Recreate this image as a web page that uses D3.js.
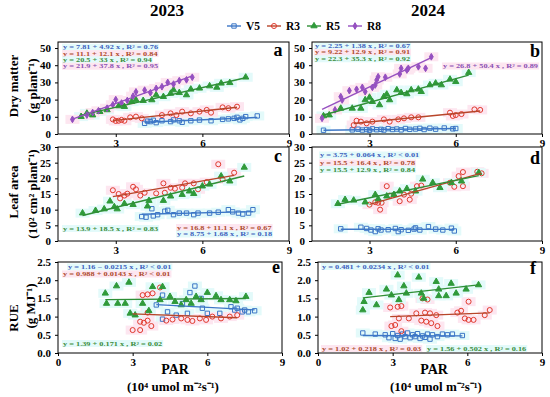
<!DOCTYPE html>
<html><head><meta charset="utf-8">
<script src="https://cdn.jsdelivr.net/npm/d3@7"></script>
<style>body{margin:0;background:#fff}svg{display:block}</style>
</head><body>
<svg id="chart" width="550" height="397"></svg>
<script>
// ---------- DATA (x: PAR, 10^4 umol m-2 s-1) ----------
const seriesNames = ["V5", "R3", "R5", "R8"];
const yearLabels = ["2023", "2024"];
const dmTicks = [0, 10, 20, 30, 40, 50];
const laTicks = [0, 5, 10, 15, 20, 25, 30];
const rueTicks = [0, 0.5, 1.0, 1.5, 2.0, 2.5];
const xTicksTop = [3, 6, 9];
const xTicksBottom = [0, 3, 6, 9];

// Dry matter 2023 (panel a)
const dmV5_2023 = [[4.0,6.2],[4.1,7.5],[4.2,7.2],[4.3,8.0],[4.4,6.6],[4.6,7.7],[4.9,7.2],[5.0,8.2],[5.2,7.7],[5.3,6.8],[5.6,7.7],[5.9,8.1],[6.3,7.7],[6.7,8.5],[6.9,8.8],[7.1,9.1],[7.2,9.7],[7.3,8.2],[7.4,9.1],[7.5,10.1],[7.9,10.5]];
const dmR3_2023 = [[2.9,8.5],[3.0,7.6],[3.1,7.7],[3.2,8.2],[3.3,7.7],[3.5,9.7],[3.7,10.1],[3.9,9.1],[4.6,11.0],[4.9,12.0],[5.1,11.0],[5.3,13.0],[5.6,12.0],[5.9,13.0],[6.15,14.0],[6.3,12.4],[6.7,15.5],[6.9,15.0],[7.2,15.9]];
const dmR5_2023 = [[1.8,10.1],[2.0,12.0],[2.2,11.0],[2.45,13.0],[2.7,14.0],[3.1,16.3],[3.3,15.9],[3.55,18.8],[3.7,19.8],[3.95,19.4],[4.25,19.8],[4.4,22.7],[4.65,21.7],[4.9,23.6],[5.0,25.6],[5.2,24.0],[5.45,22.7],[5.6,26.0],[5.9,26.6],[6.25,27.9],[6.5,27.1],[6.65,29.5],[6.95,29.8],[7.5,33.0]];
const dmR8_2023 = [[1.5,8.5],[2.0,11.0],[2.2,12.5],[2.4,13.5],[2.7,15.0],[2.9,17.0],[3.0,20.0],[3.2,18.0],[3.4,19.5],[3.6,22.0],[3.7,24.5],[4.0,25.5],[4.2,24.0],[4.4,26.5],[4.6,27.5],[4.8,30.0],[5.0,29.0],[5.2,31.0],[5.45,31.5],[5.65,33.0]];

// Dry matter 2024 (panel b)
const dmV5_2024 = [[1.4,2.2],[2.4,2.4],[2.6,2.8],[2.75,2.3],[2.9,2.6],[3.0,2.2],[3.1,3.0],[3.25,2.5],[3.4,2.7],[3.5,2.3],[3.65,3.1],[3.8,2.6],[3.95,2.9],[4.1,2.4],[4.25,3.2],[4.4,2.7],[4.6,2.9],[4.75,3.3],[4.9,2.6],[5.1,3.4],[5.3,2.8],[5.6,3.5],[5.9,3.0],[6.0,3.2]];
const dmR3_2024 = [[2.45,5.2],[2.55,7.7],[2.7,7.2],[2.9,6.2],[3.1,7.2],[3.5,8.5],[3.7,7.2],[4.0,8.5],[4.2,9.1],[4.45,9.7],[4.7,9.7],[5.8,12.4],[5.9,10.5],[6.0,11.0],[6.2,11.6],[6.65,14.3],[6.85,14.0]];
const dmR5_2024 = [[1.4,10.5],[1.6,11.0],[2.0,14.9],[2.4,14.9],[2.7,14.9],[2.85,19.8],[3.0,21.3],[3.1,18.8],[3.35,16.9],[3.5,21.7],[3.6,23.1],[3.7,19.8],[3.95,25.6],[4.1,24.0],[4.3,23.3],[4.45,25.6],[4.7,26.0],[4.8,24.6],[5.1,28.5],[5.3,29.5],[5.5,28.5],[5.8,31.8],[6.0,30.4],[6.45,35.7]];
const dmR8_2024 = [[1.35,9.1],[1.8,14.0],[2.0,21.7],[2.05,19.8],[2.3,25.2],[2.55,26.0],[2.75,27.1],[2.85,24.6],[3.1,27.1],[3.2,28.5],[3.25,31.4],[3.3,33.3],[3.55,33.0],[4.05,34.9],[4.1,38.2],[4.3,37.2],[4.35,38.2],[4.7,39.1],[4.95,38.2],[5.15,44.9]];

// Leaf area 2023 (panel c)
const laV5_2023 = [[3.9,7.8],[4.05,7.6],[4.25,10.3],[4.3,8.0],[4.45,8.4],[4.7,9.5],[4.8,9.8],[5.0,8.4],[5.2,8.9],[5.45,8.9],[5.7,8.4],[5.85,8.9],[6.25,8.9],[6.55,9.2],[6.9,10.0],[7.05,9.3],[7.25,8.9],[7.4,8.6],[7.6,8.9],[7.75,10.0]];
const laR3_2023 = [[2.9,16.2],[3.1,15.0],[3.15,13.6],[3.3,14.5],[3.4,15.1],[3.6,17.3],[3.7,16.5],[3.85,14.5],[4.0,15.4],[4.4,15.2],[4.65,18.4],[4.7,15.4],[4.9,17.0],[5.05,16.7],[5.3,17.0],[5.4,18.4],[5.7,18.4],[5.85,16.5],[6.15,18.8],[6.55,24.5],[6.7,19.7],[7.1,21.8]];
const laR5_2023 = [[1.85,8.9],[2.3,9.7],[2.6,10.2],[2.8,12.7],[2.95,10.9],[3.05,10.2],[3.3,11.9],[3.6,11.6],[4.1,11.1],[4.15,12.9],[4.65,12.9],[4.9,14.3],[5.3,14.8],[5.55,15.9],[5.7,15.1],[6.0,17.5],[6.25,18.1],[6.65,20.7],[6.95,19.1],[7.45,23.5]];

// Leaf area 2024 (panel d)
const laV5_2024 = [[2.0,3.9],[2.7,4.4],[2.9,4.0],[3.05,3.5],[3.2,3.0],[3.3,3.9],[3.4,3.5],[3.65,3.6],[3.9,4.0],[4.0,3.0],[4.1,3.6],[4.35,3.4],[4.55,3.8],[4.6,4.2],[4.75,3.5],[5.05,4.6],[5.3,3.8],[5.55,3.5],[5.85,4.1],[5.95,3.2]];
const laR3_2024 = [[3.0,11.6],[3.2,12.4],[3.3,12.2],[3.37,10.0],[3.42,12.2],[3.6,17.5],[3.7,14.5],[4.05,12.7],[4.2,14.8],[4.4,13.2],[4.45,15.1],[4.65,17.5],[4.8,17.7],[5.8,18.6],[5.95,17.3],[6.1,20.7],[6.25,22.0],[6.25,17.5],[6.75,22.1],[6.9,21.6]];
const laR5_2024 = [[1.9,11.9],[2.15,13.2],[2.45,13.0],[2.85,12.4],[3.2,14.8],[3.3,13.4],[3.6,14.3],[3.85,14.8],[4.05,15.9],[4.3,16.7],[4.6,15.9],[4.85,19.7],[5.2,18.6],[5.45,17.0],[5.85,18.6],[6.2,19.1],[6.8,21.8]];

// RUE 2023 (panel e)
const rueV5_2023 = [[3.95,1.32],[4.2,1.59],[4.4,1.13],[4.2,0.93],[4.75,1.04],[5.0,1.36],[5.2,1.09],[5.3,1.66],[5.5,1.84],[5.75,1.50],[5.8,1.23],[6.0,1.09],[6.5,1.09],[6.95,1.27],[7.1,1.18],[7.2,1.23],[7.4,1.13],[7.5,1.18],[7.65,1.13],[7.9,1.16]];
const rueR3_2023 = [[3.0,0.63],[3.3,0.63],[3.3,0.86],[3.45,0.83],[3.6,0.89],[3.6,1.11],[3.4,1.59],[3.6,1.61],[3.8,1.64],[3.75,0.74],[4.1,1.80],[4.35,0.89],[4.6,0.92],[4.95,0.95],[5.2,0.91],[5.4,0.88],[5.7,0.95],[5.95,0.91],[6.2,1.0],[6.55,0.95],[6.9,1.0],[7.2,1.04]];
const rueR5_2023 = [[1.9,1.64],[2.35,1.84],[2.85,1.94],[1.95,1.36],[2.4,1.36],[2.7,1.36],[2.9,1.09],[3.1,1.04],[3.4,1.36],[3.65,1.16],[3.8,1.82],[4.1,1.46],[4.2,1.82],[4.5,1.55],[4.7,1.41],[4.95,1.32],[5.15,1.46],[5.35,1.36],[5.55,1.55],[5.75,1.46],[6.0,1.66],[6.35,1.57],[6.55,1.46],[6.9,1.46],[7.15,1.43],[7.55,1.55]];

// RUE 2024 (panel f)
const rueV5_2024 = [[1.8,0.55],[2.3,0.52],[2.7,0.5],[2.85,0.42],[3.0,0.53],[3.1,0.4],[3.2,0.48],[3.3,0.38],[3.4,0.52],[3.5,0.45],[3.6,0.55],[3.7,0.42],[3.8,0.5],[3.9,0.45],[4.0,0.53],[4.1,0.4],[4.2,0.47],[4.3,0.43],[4.4,0.52],[4.5,0.38],[4.6,0.5],[4.8,0.45],[5.0,0.52],[5.2,0.5],[5.4,0.52],[5.8,0.48]];
const rueR3_2024 = [[2.9,1.25],[3.2,1.27],[3.35,1.29],[2.95,0.74],[3.1,0.77],[3.25,0.95],[3.35,0.6],[3.65,0.95],[3.95,1.09],[4.2,1.50],[4.3,1.11],[4.4,1.47],[4.5,1.09],[4.15,0.89],[4.35,0.86],[4.55,0.82],[4.75,1.04],[4.8,0.74],[5.6,1.11],[5.75,1.16],[5.9,0.95],[6.05,0.91],[6.25,0.91],[6.05,1.41],[6.7,1.04],[6.9,1.18]];
const rueR5_2024 = [[1.8,1.18],[1.85,1.41],[2.05,1.66],[2.35,1.32],[2.75,1.75],[2.95,1.59],[3.2,2.14],[3.25,1.46],[3.45,1.84],[3.55,1.64],[4.05,2.08],[4.15,1.64],[4.25,1.50],[4.75,1.96],[4.85,1.75],[4.85,1.57],[5.15,1.57],[5.35,1.91],[5.55,1.64],[5.95,1.75],[6.45,1.87]];

// ---------- STYLE ----------
const FONT = "'Liberation Serif','Times New Roman',serif";
const col = {V5:"#3c76c6", R3:"#e0392e", R5:"#2f9a3a", R8:"#9550c0"};
const lineCol = {V5:"#3c76c6", R3:"#b8452a", R5:"#2f8f36", R8:"#9550c0"};
const eqCol = {V5:"#3d5fbd", R3:"#ad4a2c", R5:"#3b8c3b", R8:"#8a4fb3"};
const haloCol = {V5:"#e3fafa", R3:"#fde6f0", R5:"#e3fafa", R8:"#fde6f0"};

const svg = d3.select("#chart");

function symbolPath(name){
  if(name==="V5") return d3.symbol(d3.symbolSquare, 19)();
  if(name==="R3") return d3.symbol(d3.symbolCircle, 20)();
  if(name==="R5") return d3.symbol(d3.symbolTriangle, 17)();
  return d3.symbol(d3.symbolDiamond, 13)();
}
function drawMarker(g, name, x, y){
  const open = (name==="V5"||name==="R3");
  g.append("path").attr("d", symbolPath(name))
    .attr("transform", `translate(${x},${y})`)
    .attr("fill", open ? "none" : col[name])
    .attr("stroke", col[name]).attr("stroke-width", 1);
}
function fit(pts){
  const mx = d3.mean(pts,d=>d[0]), my = d3.mean(pts,d=>d[1]);
  let sxy=0, sxx=0;
  pts.forEach(([x,y])=>{sxy+=(x-mx)*(y-my); sxx+=(x-mx)*(x-mx);});
  const b = sxy/sxx, a = my - b*mx;
  return x => a + b*x;
}

const panels = [
  {lab:"a", xd:[1,9], xr:[58,289], yd:[0,53.5], yr:[134,42], yt:dmTicks, fmt:d3.format("d"), xt:xTicksTop,
   series:{V5:dmV5_2023, R3:dmR3_2023, R5:dmR5_2023, R8:dmR8_2023}, labPos:[278,56],
   eqs:[["y = 7.81 + 4.92 x , R² = 0.76","V5",63,49.3,"start"],["y = 11.1 + 12.1 x , R² = 0.84","R3",63,55.6,"start"],
        ["y = 20.5 + 33 x , R² = 0.94","R5",63,61.9,"start"],["y = 21.9 + 37.8 x , R² = 0.95","R8",63,68.2,"start"]]},
  {lab:"b", xd:[1,9], xr:[312,542], yd:[0,53.5], yr:[134,42], yt:dmTicks, fmt:d3.format("d"), xt:xTicksTop,
   series:{V5:dmV5_2024, R3:dmR3_2024, R5:dmR5_2024, R8:dmR8_2024}, labPos:[535,57],
   eqs:[["y = 2.25 + 1.38 x , R² = 0.67","V5",315,48,"start"],["y = 9.22 + 12.9 x , R² = 0.91","R3",315,54.4,"start"],
        ["y = 22.3 + 35.3 x , R² = 0.92","R5",315,60.8,"start"],["y = 26.8 + 50.4 x , R² = 0.89","R8",538,68,"end"]]},
  {lab:"c", xd:[1,9], xr:[58,289], yd:[0,30], yr:[241,147], yt:laTicks, fmt:d3.format("d"), xt:xTicksTop,
   series:{V5:laV5_2023, R3:laR3_2023, R5:laR5_2023}, labPos:[278,162],
   eqs:[["y = 13.9 + 18.5 x , R² = 0.83","R5",63,230.5,"start"],["y = 16.8 + 11.1 x , R² = 0.67","R3",177,229.5,"start"],
        ["y = 8.75 + 1.68 x , R² = 0.18","V5",177,236,"start"]]},
  {lab:"d", xd:[1,9], xr:[312,542], yd:[0,30], yr:[241,147], yt:laTicks, fmt:d3.format("d"), xt:xTicksTop,
   series:{V5:laV5_2024, R3:laR3_2024, R5:laR5_2024}, labPos:[535,164],
   eqs:[["y = 3.75 + 0.064 x , R² < 0.01","V5",320,157,"start"],["y = 15.5 + 16.4 x , R² = 0.78","R3",320,165,"start"],
        ["y = 15.5 + 12.9 x , R² = 0.84","R5",320,171.5,"start"]]},
  {lab:"e", xd:[0,9], xr:[58,282], yd:[0,2.5], yr:[353,262], yt:rueTicks, fmt:d3.format(".1f"), xt:xTicksBottom,
   series:{V5:rueV5_2023, R3:rueR3_2023, R5:rueR5_2023}, labPos:[276,273],
   eqs:[["y = 1.16 − 0.0215 x , R² < 0.01","V5",68,269,"start"],["y = 0.988 + 0.0143 x , R² < 0.01","R3",63,276,"start"],
        ["y = 1.39 + 0.171 x , R² = 0.02","R5",63,345.5,"start"]]},
  {lab:"f", xd:[0,9], xr:[318,542], yd:[0,2.5], yr:[353,262], yt:rueTicks, fmt:d3.format(".1f"), xt:xTicksBottom,
   series:{V5:rueV5_2024, R3:rueR3_2024, R5:rueR5_2024}, labPos:[533,274],
   eqs:[["y = 0.481 + 0.0234 x , R² < 0.01","V5",322,268.5,"start"],["y = 1.02 + 0.218 x , R² = 0.03","R3",322,350.5,"start"],
        ["y = 1.56 + 0.502 x , R² = 0.16","R5",427,350.5,"start"]]}
];

panels.forEach(p=>{
  const x = d3.scaleLinear().domain(p.xd).range(p.xr);
  const y = d3.scaleLinear().domain(p.yd).range(p.yr);
  const g = svg.append("g");
  // pale highlight halos behind the points (as in the source image)
  const halo = g.append("g");
  seriesNames.forEach(s=>{
    if(!p.series[s]) return;
    p.series[s].forEach(d=>{
      halo.append("rect").attr("x",x(d[0])-7).attr("y",y(d[1])-4.5)
        .attr("width",14).attr("height",9).attr("fill",haloCol[s]);
    });
  });
  const ya = g.append("g").attr("transform",`translate(${p.xr[0]},0)`)
    .call(d3.axisLeft(y).tickValues(p.yt).tickFormat(p.fmt).tickSize(3).tickSizeOuter(0));
  const xa = g.append("g").attr("transform",`translate(0,${p.yr[0]})`)
    .call(d3.axisBottom(x).tickValues(p.xt).tickFormat(d3.format("d")).tickSize(3).tickSizeOuter(0));
  [ya, xa].forEach(a=>{
    a.select(".domain").remove();
    a.selectAll("line").attr("stroke","#000");
    a.selectAll("text").attr("font-family",FONT).attr("font-weight","bold").attr("font-size",11).attr("fill","#000");
  });
  ya.selectAll("text").attr("dx",-1);
  xa.selectAll("text").attr("dy","0.6em");
  // equations (with pale backgrounds)
  p.eqs.forEach(([t,s,tx,ty,anc])=>{
    const bg = g.append("rect");
    const te = g.append("text").attr("x",tx).attr("y",ty).attr("text-anchor",anc)
      .attr("font-family",FONT).attr("font-weight","bold").attr("font-size",6)
      .attr("fill",eqCol[s]).text(t);
    const w = te.node().getComputedTextLength()*1.38;
    te.attr("textLength", w).attr("lengthAdjust","spacingAndGlyphs");
    const x0 = anc==="end" ? tx-w : tx;
    bg.attr("x",x0-1).attr("y",ty-5.5).attr("width",w+2).attr("height",7).attr("fill",haloCol[s]);
  });
  seriesNames.forEach(s=>{
    if(!p.series[s]) return;
    p.series[s].forEach(d=>drawMarker(g, s, x(d[0]), y(d[1])));
  });
  seriesNames.forEach(s=>{
    const pts = p.series[s]; if(!pts) return;
    const f = fit(pts), ext = d3.extent(pts, d=>d[0]);
    g.append("line").attr("x1",x(ext[0])).attr("x2",x(ext[1]))
      .attr("y1",y(f(ext[0]))).attr("y2",y(f(ext[1])))
      .attr("stroke",lineCol[s]).attr("stroke-width",1.4);
  });
  g.append("rect").attr("x",p.xr[0]).attr("y",p.yr[1])
    .attr("width",p.xr[1]-p.xr[0]).attr("height",p.yr[0]-p.yr[1])
    .attr("fill","none").attr("stroke","#000").attr("stroke-width",1);
  g.append("text").attr("x",p.labPos[0]).attr("y",p.labPos[1]).attr("text-anchor","middle")
    .attr("font-family",FONT).attr("font-weight","bold").attr("font-size",18).text(p.lab);
});

// year titles
[[yearLabels[0],167],[yearLabels[1],428]].forEach(([t,cx])=>{
  svg.append("text").attr("x",cx).attr("y",16).attr("text-anchor","middle")
    .attr("font-family",FONT).attr("font-weight","bold").attr("font-size",17).text(t);
});

// legend
const legX = [227, 267, 307, 348];
seriesNames.forEach((s,i)=>{
  const lx = legX[i], ly = 26;
  svg.append("line").attr("x1",lx).attr("x2",lx+14).attr("y1",ly).attr("y2",ly)
    .attr("stroke",lineCol[s]).attr("stroke-width",1.4);
  drawMarker(svg, s, lx+7, ly);
  svg.append("text").attr("x",lx+19).attr("y",ly+4).attr("font-family",FONT)
    .attr("font-weight","bold").attr("font-size",11.5).text(s);
});

// y-axis titles
function vtext(t, cx, cy, size){
  svg.append("text").attr("transform",`translate(${cx},${cy}) rotate(-90)`)
    .attr("text-anchor","middle").attr("dominant-baseline","central")
    .attr("font-family",FONT).attr("font-weight","bold").attr("font-size",size).text(t);
}
vtext("Dry matter", 13, 86, 13);
vtext("(g plant⁻¹)", 32, 86, 13);
vtext("Leaf area", 13, 192, 13);
vtext("(10² cm² plant⁻¹)", 32, 194, 13);
vtext("RUE", 13, 318, 13);
vtext("(g MJ⁻¹)", 30, 306, 13);

// x-axis titles
[[175,173],[434,436]].forEach(([c1,c2])=>{
  svg.append("text").attr("x",c1).attr("y",374).attr("text-anchor","middle")
    .attr("font-family",FONT).attr("font-weight","bold").attr("font-size",14).text("PAR");
  svg.append("text").attr("x",c2).attr("y",391).attr("text-anchor","middle")
    .attr("font-family",FONT).attr("font-weight","bold").attr("font-size",13).text("(10⁴ umol m⁻²s⁻¹)");
});
</script>
</body></html>
